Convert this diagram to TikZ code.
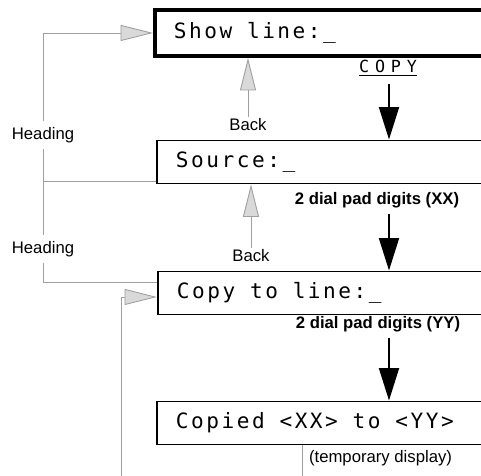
\documentclass[tikz,border=0pt]{standalone}
\usepackage{fontspec}
\setmainfont{Liberation Sans}
\newfontfamily\lcdfont{DejaVu Sans Mono}[LetterSpace=12]
\newfontfamily\keyfont{DejaVu Sans Mono}[LetterSpace=35]
\newcommand\lcdgap{\hspace{8.4pt}}
\usetikzlibrary{arrows.meta}

\begin{document}
\begin{tikzpicture}[x=0.2mm, y=-0.2mm,
  lcd/.style={draw, line width=1.1pt, anchor=west, inner xsep=3.8mm, text width=60mm,
    align=left, minimum height=8.6mm, font=\lcdfont\fontsize{12}{14}\selectfont},
  lbl/.style={font=\fontsize{9.5}{11}\selectfont, inner sep=1pt},
  boldlbl/.style={font=\fontsize{9.5}{11}\selectfont\bfseries, inner sep=1pt},
  gline/.style={draw=gray!75, line width=0.5pt},
  gtip/.style={-{Triangle[length=6.5mm, width=3.2mm, fill=gray!30]}},
  blk/.style={line width=1.1pt, -{Triangle[length=6.5mm, width=4mm]}}]
\useasboundingbox (0,0) rectangle (481,476);
\clip (0,0) rectangle (481,476);

% Draw the display boxes
\node[lcd, line width=2.2pt, minimum height=9.2mm] (show) at (153,33) {Show\lcdgap line:\_};
\node[lcd] (source) at (156,162) {Source:\_};
\node[lcd] (copyto) at (157,293) {Copy\lcdgap to\lcdgap line:\_};
\node[lcd] (copied) at (156,423) {Copied\lcdgap <XX>\lcdgap to\lcdgap <YY>};

% Labels
\node[font=\keyfont\fontsize{9.5}{11}\selectfont, inner sep=1pt] (copykey) at (388,68) {\underline{COPY}};
\node[boldlbl] (xx) at (377,200) {2 dial pad digits (XX)};
\node[boldlbl] (yy) at (378,324) {2 dial pad digits (YY)};
\node[lbl] (back1) at (248,125) {Back};
\node[lbl] (back2) at (251,256) {Back};
\node[lbl, inner ysep=3.5pt] (head1) at (43,135) {Heading};
\node[lbl, inner ysep=3.5pt] (head2) at (43,249) {Heading};
\node[lbl, anchor=west] (temp) at (307,458) {(temporary display)};

\coordinate (col) at (389,0);
\coordinate (bot1) at (121,480);
\coordinate (bot2) at (302,480);
\coordinate (srcjoin) at ([yshift=0.6mm]source.south west);

% Draw the black key arrows
\draw[blk, shorten <=1.2mm] (copykey.south -| col) -- (source.north -| col);
\draw[blk, shorten <=0.8mm] (xx.south -| col) -- (copyto.north -| col);
\draw[blk, shorten <=0.8mm] (yy.south -| col) -- (copied.north -| col);

% Draw the gray back and heading arrows
\draw[gline, gtip] (back1.north) -- (back1.north |- show.south);
\draw[gline, gtip] (back2.north) -- (back2.north |- source.south);
\draw[gline, gtip] (head1.north) |- (show.west);
\draw[gline] (srcjoin) -| (head1.south);
\draw[gline] (head2.north) -- (head2.north |- srcjoin);
\draw[gline] ([yshift=-2.4mm]copyto.north west) -| (head2.south);
\draw[gline, gtip] (bot1) |- ([yshift=-0.8mm]copyto.west);
\draw[gline] (bot2 |- copied.south) -- (bot2);

\end{tikzpicture}
\end{document}
